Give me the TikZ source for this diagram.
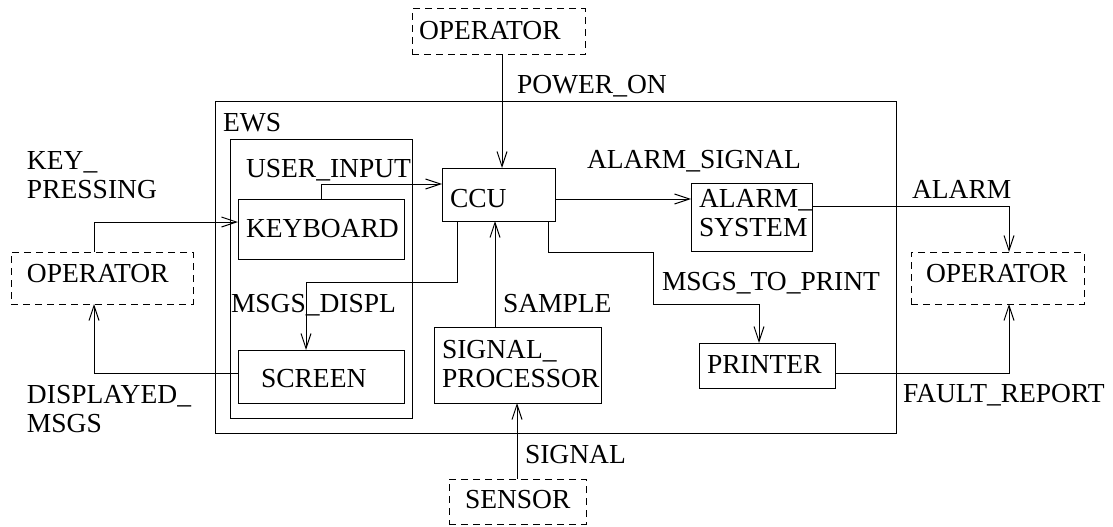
\documentclass[tikz,border=0pt]{standalone}
\usepackage{fontspec}
\setmainfont{Liberation Serif}
\usetikzlibrary{arrows.meta}
\begin{document}
\begin{tikzpicture}[x=1pt,y=-1pt,
  every node/.style={font=\fontsize{27.5}{29.5}\selectfont, inner sep=0pt, outer sep=0pt},
  box/.style={draw, line width=1pt, anchor=north west},
  extbox/.style={draw, line width=1pt, anchor=north west, dash pattern=on 7pt off 5pt},
  lbl/.style={anchor=base west},
  flow/.style={line width=1pt, -{Straight Barb[length=15pt,width=10pt,line width=1pt]}},
  plain/.style={line width=1pt}
]
\useasboundingbox (0,0) rectangle (1113,527);

% boxes
\node[box, minimum width=681pt, minimum height=332pt] (ews) at (215,101) {};
\node[box, minimum width=182pt, minimum height=279pt] (ewscol) at (230,139) {};
\node[box, minimum width=166pt, minimum height=60pt] (kbd) at (238,199) {};
\node[box, minimum width=166pt, minimum height=53pt] (scr) at (238,350) {};
\node[box, minimum width=113pt, minimum height=53pt] (ccu) at (442,168) {};
\node[box, minimum width=121pt, minimum height=68pt] (alarm) at (691,183) {};
\node[box, minimum width=167pt, minimum height=76pt] (sigp) at (434,327) {};
\node[box, minimum width=136pt, minimum height=45pt] (prn) at (699,343) {};

% external entities
\node[extbox, minimum width=182pt, minimum height=52pt] (opL) at (11,252) {};
\node[extbox, minimum width=173pt, minimum height=46pt] (opT) at (412,9) {};
\node[extbox, minimum width=173pt, minimum height=52pt] (opR) at (911,252) {};
\node[extbox, minimum width=137pt, minimum height=45pt] (sens) at (449,479) {};

% box texts
\node[lbl] (topL) at (27,282) {OPERATOR};
\node[lbl] (topT) at (419,40) {OPERATOR};
\node[lbl] (topR) at (926,282) {OPERATOR};
\node[lbl] (tsens) at (465,508) {SENSOR};
\node[lbl] (tews) at (223,131) {EWS};
\node[lbl] (tkbd) at (246,237) {KEYBOARD};
\node[lbl] (tscr) at (261,387) {SCREEN};
\node[lbl] (tccu) at (450,207) {CCU};
\node[lbl] (talarm) at (699,207) {\begin{tabular}[t]{@{}l@{}}ALARM\_\\SYSTEM\end{tabular}};
\node[lbl] (tsigp) at (442,358) {\begin{tabular}[t]{@{}l@{}}SIGNAL\_\\PROCESSOR\end{tabular}};
\node[lbl] (tprn) at (707,373) {PRINTER};

% flow labels
\node[lbl] (lkey) at (27,169) {\begin{tabular}[t]{@{}l@{}}KEY\_\\PRESSING\end{tabular}};
\node[lbl] (ldisp) at (27,403) {\begin{tabular}[t]{@{}l@{}}DISPLAYED\_\\MSGS\end{tabular}};
\node[lbl] (luser) at (246,177) {USER\_INPUT};
\node[lbl] (lmsgd) at (231,312) {MSGS\_DISPL};
\node[lbl] (lpow) at (517,93) {POWER\_ON};
\node[lbl] (lasig) at (587,168) {ALARM\_SIGNAL};
\node[lbl] (lalarm) at (912,198) {ALARM};
\node[lbl] (lmtp) at (662,290) {MSGS\_TO\_PRINT};
\node[lbl] (lfault) at (903,402) {FAULT\_REPORT};
\node[lbl] (lsample) at (503,312) {SAMPLE};
\node[lbl] (lsignal) at (525,463) {SIGNAL};

% bend coordinates
\coordinate (kp) at (94,222);
\coordinate (dm) at (94,373);
\coordinate (ui) at (321,184);
\coordinate (pw) at (502,0);
\coordinate (md1) at (457,282);
\coordinate (md2) at (306,282);
\coordinate (sm) at (495,0);
\coordinate (as) at (0,199);
\coordinate (mp1) at (548,252);
\coordinate (mp2) at (653,252);
\coordinate (mp3) at (653,304);
\coordinate (mp4) at (759,304);
\coordinate (al) at (1009,206);
\coordinate (fr) at (1009,373);
\coordinate (sg) at (517,0);

% connectors
\draw[flow] (opL.north -| kp) |- (kbd.west |- kp);
\draw[flow] (scr.west |- dm) -| (opL.south -| dm);
\draw[flow] (kbd.north -| ui) |- (ccu.west |- ui);
\draw[flow] (opT.south -| pw) -- (ccu.north -| pw);
\draw[flow] (ccu.south -| md1) -- (md1) -- (md2) -- (scr.north -| md2);
\draw[flow] (sigp.north -| sm) -- (ccu.south -| sm);
\draw[flow] (ccu.east |- as) -- (alarm.west |- as);
\draw[flow] (ccu.south -| mp1) -- (mp1) -- (mp2) -- (mp3) -- (mp4) -- (prn.north -| mp4);
\draw[flow] (alarm.east |- al) -| (opR.north -| al);
\draw[flow] (prn.east |- fr) -| (opR.south -| fr);
\draw[flow] (sens.north -| sg) -- (sigp.south -| sg);
\end{tikzpicture}
\end{document}
